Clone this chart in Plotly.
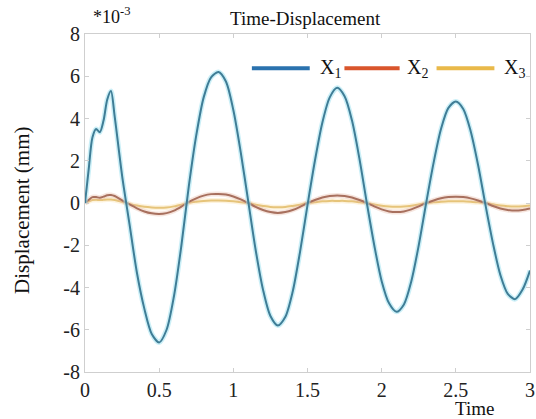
import plotly.graph_objects as go

time = [0, 0.025, 0.05, 0.075, 0.1, 0.125, 0.15, 0.175, 0.2, 0.25, 0.3, 0.35, 0.4, 0.45, 0.5,
        0.55, 0.6, 0.65, 0.7, 0.75, 0.8, 0.85, 0.9, 0.95, 1.0, 1.05, 1.1, 1.15, 1.2, 1.25, 1.3,
        1.35, 1.4, 1.45, 1.5, 1.55, 1.6, 1.65, 1.7, 1.75, 1.8, 1.85, 1.9, 1.95, 2.0, 2.05, 2.1,
        2.15, 2.2, 2.25, 2.3, 2.35, 2.4, 2.45, 2.5, 2.55, 2.6, 2.65, 2.7, 2.75, 2.8, 2.85, 2.9,
        2.95, 3.0]

x1 = [0, 1.6, 3.1, 3.5, 3.35, 3.9, 4.9, 5.3, 4.1, 1.3, -1.0, -3.3, -5.0, -6.2, -6.6,
      -6.0, -4.4, -2.0, 0.8, 3.2, 5.0, 5.95, 6.2, 5.75, 4.4, 2.4, 0.1, -2.2, -4.1, -5.35, -5.8,
      -5.4, -4.2, -2.3, -0.1, 2.0, 3.8, 5.0, 5.45, 5.05, 3.9, 2.1, 0.0, -2.0, -3.7, -4.75, -5.15,
      -4.8, -3.7, -2.0, 0.0, 1.9, 3.5, 4.5, 4.8, 4.45, 3.4, 1.8, -0.1, -1.9, -3.4, -4.3, -4.55,
      -4.1, -3.2]

x2 = [0, 0.15, 0.28, 0.28, 0.25, 0.3, 0.37, 0.38, 0.33, 0.12, -0.07, -0.25, -0.4, -0.49, -0.52,
      -0.48, -0.36, -0.17, 0.05, 0.22, 0.35, 0.42, 0.43, 0.4, 0.31, 0.17, 0.0, -0.18, -0.33, -0.43, -0.47,
      -0.43, -0.33, -0.18, 0.0, 0.14, 0.26, 0.33, 0.36, 0.33, 0.26, 0.14, 0.0, -0.16, -0.3, -0.4, -0.43,
      -0.4, -0.3, -0.16, 0.0, 0.12, 0.22, 0.28, 0.3, 0.28, 0.22, 0.12, 0.0, -0.14, -0.26, -0.33, -0.36,
      -0.33, -0.26]

x3 = [0, 0.08, 0.14, 0.15, 0.14, 0.15, 0.16, 0.16, 0.14, 0.06, -0.04, -0.12, -0.18, -0.21, -0.22,
      -0.21, -0.16, -0.08, 0.01, 0.06, 0.1, 0.12, 0.12, 0.11, 0.08, 0.04, 0.0, -0.08, -0.14, -0.19, -0.2,
      -0.19, -0.14, -0.08, 0.0, 0.04, 0.08, 0.1, 0.1, 0.1, 0.08, 0.04, 0.0, -0.07, -0.13, -0.17, -0.18,
      -0.17, -0.13, -0.07, 0.0, 0.03, 0.06, 0.08, 0.08, 0.08, 0.06, 0.03, 0.0, -0.06, -0.12, -0.15, -0.16,
      -0.15, -0.12]

series_names = ["X<sub>1</sub>", "X<sub>2</sub>", "X<sub>3</sub>"]
x_ticks = [0, 0.5, 1, 1.5, 2, 2.5, 3]
x_tick_labels = ["0", "0.5", "1", "1.5", "2", "2.5", "3"]
y_ticks = [-8, -6, -4, -2, 0, 2, 4, 6, 8]
y_tick_labels = ["-8", "-6", "-4", "-2", "0", "2", "4", "6", "8"]

FONT = "Liberation Serif, Times New Roman, serif"
line_cols = ["#3f7d96", "#a8705e", "#e6c47a"]
halo_cols = ["rgba(160,225,240,0.55)", "rgba(230,180,160,0.35)", "rgba(250,220,160,0.35)"]
legend_cols = ["#2a72ae", "#d9552c", "#e9b94a"]

fig = go.Figure()
for ys, lc, hc, nm in [(x3, line_cols[2], halo_cols[2], series_names[2]),
                       (x2, line_cols[1], halo_cols[1], series_names[1]),
                       (x1, line_cols[0], halo_cols[0], series_names[0])]:
    fig.add_trace(go.Scatter(x=time, y=ys, mode="lines", line=dict(color=hc, width=5, shape="spline", smoothing=0.8),
                             showlegend=False, hoverinfo="skip"))
    fig.add_trace(go.Scatter(x=time, y=ys, mode="lines", name=nm,
                             line=dict(color=lc, width=2, shape="spline", smoothing=0.8),
                             showlegend=False))

axis_common = dict(showgrid=False, zeroline=False, showline=True, linecolor="#cfcfcf", linewidth=1,
                   mirror="ticks", ticks="inside", ticklen=4, tickcolor="#cfcfcf", automargin=False,
                   tickfont=dict(family=FONT, size=20, color="#222"))

fig.update_xaxes(range=[0, 3], tickvals=x_ticks, ticktext=x_tick_labels,
                 ticklabeloverflow="allow", **axis_common)
fig.update_yaxes(range=[-8, 8], tickvals=y_ticks, ticktext=y_tick_labels, **axis_common)

# legend drawn as line samples + labels (paper coordinates)
legend_pos = [(0.375, 0.505, 0.523), (0.583, 0.707, 0.718), (0.790, 0.920, 0.936)]
shapes = []
annotations = []
for (x0, x1p, xt), col, nm in zip(legend_pos, legend_cols, series_names):
    shapes.append(dict(type="line", xref="paper", yref="paper", x0=x0, x1=x1p, y0=0.899, y1=0.899,
                       line=dict(color=col, width=4)))
    annotations.append(dict(text=nm, xref="paper", yref="paper", x=xt, y=0.899, xanchor="left",
                            yanchor="middle", showarrow=False, font=dict(family=FONT, size=20, color="#111")))

annotations += [
    dict(text="Time-Displacement", xref="paper", yref="paper", x=0.496, y=1.047, xanchor="center",
         yanchor="middle", showarrow=False, font=dict(family=FONT, size=19, color="#111")),
    dict(text="*10<sup>-3</sup>", xref="paper", yref="paper", x=0.014, y=1.056, xanchor="left",
         yanchor="middle", showarrow=False, font=dict(family=FONT, size=18, color="#111")),
    dict(text="Time", xref="paper", yref="paper", x=0.876, y=-0.108, xanchor="center",
         yanchor="middle", showarrow=False, font=dict(family=FONT, size=19, color="#111")),
    dict(text="Displacement (mm)", xref="paper", yref="paper", x=-0.142, y=0.479, xanchor="center",
         yanchor="middle", textangle=-90, showarrow=False, font=dict(family=FONT, size=21, color="#111")),
]

fig.update_layout(width=536, height=419, margin=dict(l=85, r=6, t=34, b=47),
                  paper_bgcolor="white", plot_bgcolor="white", showlegend=False,
                  shapes=shapes, annotations=annotations)

fig.write_html("out.html", config={"displayModeBar": False},
               post_script="document.body.style.margin='0';document.body.style.overflow='hidden';")
